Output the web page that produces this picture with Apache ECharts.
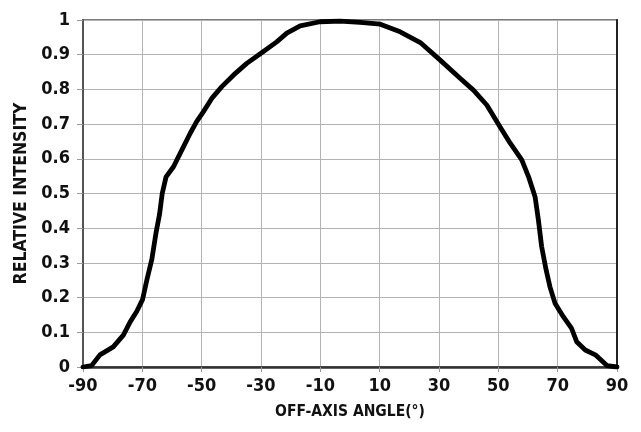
<!DOCTYPE html>
<html>
<head>
<meta charset="utf-8">
<style>
  html, body { margin: 0; padding: 0; background: #fff; }
  #chart { width: 641px; height: 432px; }
</style>
<script src="https://cdn.jsdelivr.net/npm/echarts@6/dist/echarts.min.js"></script>
</head>
<body>
<div id="chart"></div>
<script>
// Off-axis angle (degrees) and the measured relative intensity at each angle
const angles = [-90, -87.1, -84.3, -79.8, -76.4, -74.1, -71.9, -69.9, -68.5, -66.8,
  -65.4, -64.2, -63.3, -62.0, -59.5, -56.7, -53.9, -51.7, -49.4, -46.6,
  -43.2, -39.3, -34.8, -30, -24.7, -21.3, -16.8, -10.1, -3.3, 3.4,
  10.2, 16.9, 23.7, 30.3, 37.1, 41.6, 46.1, 50.6, 54.0, 57.9,
  60.2, 62.4, 63.5, 64.6, 66.1, 67.4, 69.1, 71.9, 74.7, 76.4,
  79.3, 82.7, 86.6, 90];
const intensity = [0, 0.004, 0.035, 0.058, 0.092, 0.13, 0.16, 0.195, 0.25, 0.31,
  0.386, 0.44, 0.50, 0.548, 0.577, 0.625, 0.673, 0.707, 0.736, 0.774,
  0.808, 0.841, 0.875, 0.904, 0.937, 0.962, 0.983, 0.995, 0.997, 0.993,
  0.988, 0.966, 0.935, 0.885, 0.832, 0.798, 0.755, 0.692, 0.645, 0.597,
  0.548, 0.49, 0.424, 0.347, 0.28, 0.231, 0.184, 0.145, 0.111, 0.073,
  0.049, 0.035, 0.004, 0];

const xTitle = 'OFF-AXIS ANGLE(°)';
const yTitle = 'RELATIVE INTENSITY';

const FONT = '"DejaVu Sans Condensed", "Liberation Sans", sans-serif';

const points = angles.map((a, i) => [a, intensity[i]]);

const chart = echarts.init(document.getElementById('chart'), null, { renderer: 'canvas' });
chart.setOption({
  animation: false,
  backgroundColor: '#ffffff',
  grid: {
    left: 83, right: 24, top: 20, bottom: 65,
    show: true, borderColor: '#7a7a7a', borderWidth: 2, backgroundColor: 'transparent'
  },
  xAxis: {
    type: 'value', min: -90, max: 90, interval: 20,
    name: xTitle, nameLocation: 'middle', nameGap: 37,
    nameTextStyle: { fontFamily: FONT, fontWeight: 'bold', fontSize: 15.5, color: '#111' },
    axisLine: { onZero: false, lineStyle: { color: '#333', width: 2.5 } },
    axisTick: { show: true, length: 5, lineStyle: { color: '#999' } },
    axisLabel: { margin: 10, fontFamily: FONT, fontWeight: 'bold', fontSize: 18, color: '#111' },
    splitLine: { show: true, lineStyle: { color: '#b3b3b3', width: 1 } }
  },
  yAxis: [{
    type: 'value', min: 0, max: 1, interval: 0.1,
    name: yTitle, nameLocation: 'middle', nameGap: 53, nameRotate: 90,
    nameTextStyle: { fontFamily: FONT, fontWeight: 'bold', fontSize: 17.5, color: '#111' },
    axisLine: { show: true, onZero: false, lineStyle: { color: '#555', width: 2 } },
    axisTick: { show: true, length: 6, lineStyle: { color: '#999' } },
    axisLabel: { margin: 13, fontFamily: FONT, fontWeight: 'bold', fontSize: 18, color: '#111',
      formatter: v => String(Math.round(v * 10) / 10) },
    splitLine: { show: true, lineStyle: { color: '#b3b3b3', width: 1 } }
  }, {
    type: 'value', min: 0, max: 1, position: 'right',
    axisLine: { show: true, onZero: false, lineStyle: { color: '#222', width: 2 } },
    axisTick: { show: false }, axisLabel: { show: false }, splitLine: { show: false }
  }],
  series: [{
    type: 'line',
    data: points,
    showSymbol: false,
    smooth: false,
    lineStyle: { color: '#000', width: 4.8, join: 'round', cap: 'round' },
    z: 5
  }]
});
</script>
</body>
</html>
